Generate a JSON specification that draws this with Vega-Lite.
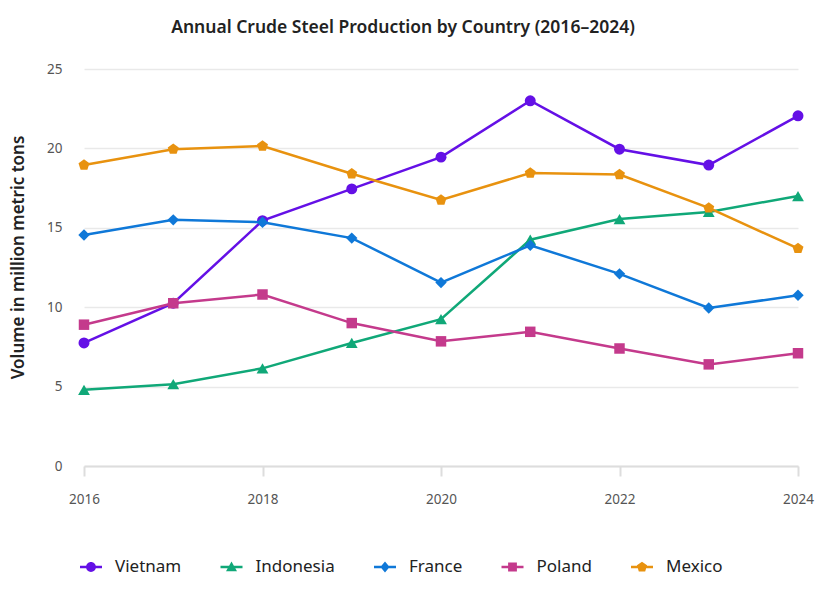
{
  "$schema": "https://vega.github.io/schema/vega-lite/v6.json",
  "autosize": {"type": "none"},
  "padding": {"left": 84, "top": 69, "right": 33, "bottom": 140},
  "width": 714,
  "height": 397,
  "background": "white",
  "config": {
    "font": "Noto Sans",
    "view": {"stroke": null},
    "title": {"fontSize": 17.5, "fontWeight": 600, "color": "#222222", "offset": 26, "anchor": "middle", "dx": -38},
    "axis": {"labelFont": "Noto Sans", "titleFont": "Noto Sans"}
  },
  "title": "Annual Crude Steel Production by Country (2016–2024)",
  "data": {
    "values": [
      {"year": 2016, "country": "Vietnam", "value": 7.75},
      {"year": 2017, "country": "Vietnam", "value": 10.25},
      {"year": 2018, "country": "Vietnam", "value": 15.45},
      {"year": 2019, "country": "Vietnam", "value": 17.45},
      {"year": 2020, "country": "Vietnam", "value": 19.45},
      {"year": 2021, "country": "Vietnam", "value": 23.0},
      {"year": 2022, "country": "Vietnam", "value": 19.95},
      {"year": 2023, "country": "Vietnam", "value": 18.95},
      {"year": 2024, "country": "Vietnam", "value": 22.05},
      {"year": 2016, "country": "Indonesia", "value": 4.8},
      {"year": 2017, "country": "Indonesia", "value": 5.15},
      {"year": 2018, "country": "Indonesia", "value": 6.15},
      {"year": 2019, "country": "Indonesia", "value": 7.75},
      {"year": 2020, "country": "Indonesia", "value": 9.25},
      {"year": 2021, "country": "Indonesia", "value": 14.25},
      {"year": 2022, "country": "Indonesia", "value": 15.55},
      {"year": 2023, "country": "Indonesia", "value": 16.0},
      {"year": 2024, "country": "Indonesia", "value": 17.0},
      {"year": 2016, "country": "France", "value": 14.55},
      {"year": 2017, "country": "France", "value": 15.5},
      {"year": 2018, "country": "France", "value": 15.35},
      {"year": 2019, "country": "France", "value": 14.35},
      {"year": 2020, "country": "France", "value": 11.55},
      {"year": 2021, "country": "France", "value": 13.9},
      {"year": 2022, "country": "France", "value": 12.1},
      {"year": 2023, "country": "France", "value": 9.95},
      {"year": 2024, "country": "France", "value": 10.75},
      {"year": 2016, "country": "Poland", "value": 8.9},
      {"year": 2017, "country": "Poland", "value": 10.25},
      {"year": 2018, "country": "Poland", "value": 10.8},
      {"year": 2019, "country": "Poland", "value": 9.0},
      {"year": 2020, "country": "Poland", "value": 7.85},
      {"year": 2021, "country": "Poland", "value": 8.45},
      {"year": 2022, "country": "Poland", "value": 7.4},
      {"year": 2023, "country": "Poland", "value": 6.4},
      {"year": 2024, "country": "Poland", "value": 7.1},
      {"year": 2016, "country": "Mexico", "value": 18.95},
      {"year": 2017, "country": "Mexico", "value": 19.95},
      {"year": 2018, "country": "Mexico", "value": 20.15},
      {"year": 2019, "country": "Mexico", "value": 18.4},
      {"year": 2020, "country": "Mexico", "value": 16.75},
      {"year": 2021, "country": "Mexico", "value": 18.45},
      {"year": 2022, "country": "Mexico", "value": 18.35},
      {"year": 2023, "country": "Mexico", "value": 16.25},
      {"year": 2024, "country": "Mexico", "value": 13.7}
    ]
  },
  "encoding": {
    "x": {
      "field": "year", "type": "quantitative",
      "scale": {"domain": [2016, 2024], "nice": false, "zero": false},
      "axis": {
        "title": null, "values": [2016, 2018, 2020, 2022, 2024], "format": "d",
        "grid": false, "domainColor": "#dddddd", "domainWidth": 2,
        "tickColor": "#dddddd", "tickWidth": 2, "tickSize": 10,
        "labelFlush": false, "labelPadding": 16, "labelFontSize": 13.5, "labelColor": "#555555"
      }
    },
    "y": {
      "field": "value", "type": "quantitative",
      "scale": {"domain": [0, 25], "nice": false},
      "axis": {
        "title": "Volume in million metric tons", "values": [0, 5, 10, 15, 20, 25],
        "domain": false, "ticks": false, "grid": true, "gridColor": "#e9e9e9", "gridWidth": 1.5,
        "labelPadding": 22, "labelFontSize": 13.5, "labelColor": "#555555",
        "titleFontSize": 17, "titleFontWeight": 600, "titleColor": "#222222", "titlePadding": 19,
        "titleY": 188
      }
    }
  },
  "layer": [
    {
      "transform": [{"filter": "datum.country === 'Vietnam'"}],
      "layer": [
        {"mark": {"type": "line", "strokeWidth": 2.5, "color": "#6410e6"}, "encoding": {}},
        {"mark": {"type": "point", "filled": true, "opacity": 1, "shape": "circle", "size": 120, "color": "#6410e6"}, "encoding": {}}
      ]
    },
    {
      "transform": [{"filter": "datum.country === 'Indonesia'"}],
      "layer": [
        {"mark": {"type": "line", "strokeWidth": 2.5, "color": "#10a878"}, "encoding": {}},
        {"mark": {"type": "point", "filled": true, "opacity": 1, "shape": "triangle-up", "size": 140, "color": "#10a878"}, "encoding": {}}
      ]
    },
    {
      "transform": [{"filter": "datum.country === 'France'"}],
      "layer": [
        {"mark": {"type": "line", "strokeWidth": 2.5, "color": "#0f78d8"}, "encoding": {}},
        {"mark": {"type": "point", "filled": true, "opacity": 1, "shape": "diamond", "size": 130, "color": "#0f78d8"}, "encoding": {}}
      ]
    },
    {
      "transform": [{"filter": "datum.country === 'Poland'"}],
      "layer": [
        {"mark": {"type": "line", "strokeWidth": 2.5, "color": "#c43a8c"}, "encoding": {}},
        {"mark": {"type": "point", "filled": true, "opacity": 1, "shape": "square", "size": 110, "color": "#c43a8c"}, "encoding": {}}
      ]
    },
    {
      "transform": [{"filter": "datum.country === 'Mexico'"}],
      "layer": [
        {"mark": {"type": "line", "strokeWidth": 2.5, "color": "#e8920f"}, "encoding": {}},
        {"mark": {"type": "point", "filled": true, "opacity": 1, "shape": "M0,-1.05L1,-0.32L0.62,0.85L-0.62,0.85L-1,-0.32Z", "size": 120, "color": "#e8920f"}, "encoding": {}}
      ]
    },
    {
      "transform": [{"filter": "datum.value < 0"}],
      "mark": {"type": "point", "filled": true, "opacity": 1},
      "encoding": {
        "color": {
          "field": "country", "type": "nominal",
          "scale": {
            "domain": ["Vietnam", "Indonesia", "France", "Poland", "Mexico"],
            "range": ["#6410e6", "#10a878", "#0f78d8", "#c43a8c", "#e8920f"]
          },
          "legend": {
            "title": null, "orient": "none", "direction": "horizontal",
            "legendX": -4, "legendY": 487,
            "symbolSize": 484, "symbolStrokeWidth": 0, "symbolOpacity": 1,
            "labelFontSize": 17, "labelColor": "#222222", "labelFont": "Noto Sans",
            "labelOffset": 13, "columnPadding": 38.5
          }
        },
        "shape": {
          "field": "country", "type": "nominal",
          "scale": {
            "domain": ["Vietnam", "Indonesia", "France", "Poland", "Mexico"],
            "range": [
              "M-1,-0.11L1,-0.11L1,0.11L-1,0.11ZM0,-0.45A0.45,0.45,0,1,1,0,0.45A0.45,0.45,0,1,1,0,-0.45Z",
              "M-1,-0.11L1,-0.11L1,0.11L-1,0.11ZM0,-0.5L0.5,0.38L-0.5,0.38Z",
              "M-1,-0.11L1,-0.11L1,0.11L-1,0.11ZM0,-0.5L0.42,0L0,0.5L-0.42,0Z",
              "M-1,-0.11L1,-0.11L1,0.11L-1,0.11ZM-0.4,-0.4L0.4,-0.4L0.4,0.4L-0.4,0.4Z",
              "M-1,-0.11L1,-0.11L1,0.11L-1,0.11ZM0,-0.48L0.46,-0.15L0.29,0.4L-0.29,0.4L-0.46,-0.15Z"
            ]
          },
          "legend": {
            "title": null, "orient": "none", "direction": "horizontal",
            "legendX": -4, "legendY": 487,
            "symbolSize": 484, "symbolStrokeWidth": 0, "symbolOpacity": 1,
            "labelFontSize": 17, "labelColor": "#222222", "labelFont": "Noto Sans",
            "labelOffset": 13, "columnPadding": 38.5
          }
        }
      }
    }
  ]
}
